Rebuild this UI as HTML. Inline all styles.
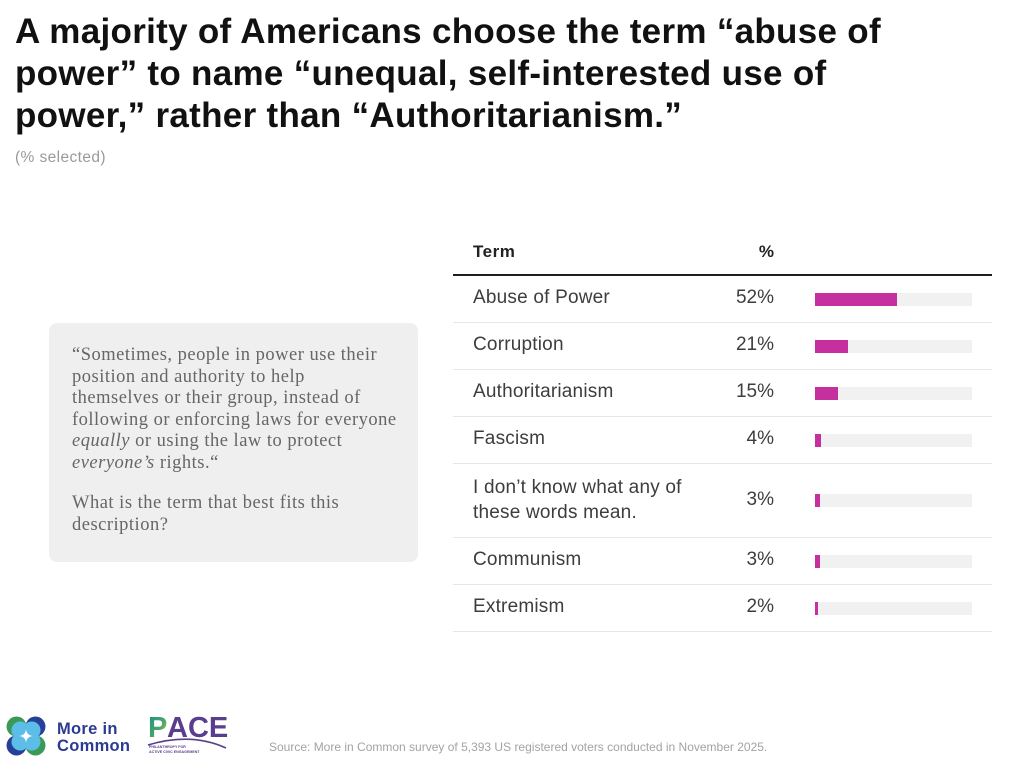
<!DOCTYPE html>
<html>
<head>
<meta charset="utf-8">
<style>
  html,body{margin:0;padding:0;background:#fff;}
  body{width:1024px;height:781px;position:relative;overflow:hidden;font-family:"Liberation Sans",Arial,sans-serif;}
  .abs{position:absolute;white-space:nowrap;}
  .title{left:15px;top:11px;font-size:35px;line-height:42px;font-weight:bold;color:#111;letter-spacing:0.3px;}
  .sub{left:15px;top:149px;font-size:15.5px;line-height:18px;color:#9a9a9a;letter-spacing:0.4px;}
  .box{left:49px;top:323px;width:369px;height:239px;background:#efefef;border-radius:8px;}
  .q{left:72px;font-family:"Liberation Serif","Times New Roman",serif;font-size:18.5px;line-height:21.5px;color:#666;letter-spacing:0.5px;}
  .hdr{font-size:17px;line-height:20px;font-weight:bold;color:#222;letter-spacing:0.5px;}
  .row{font-size:19px;line-height:22px;color:#3d3d3d;letter-spacing:0.2px;}
  .pct{font-size:19px;line-height:22px;color:#3d3d3d;text-align:right;width:80px;left:694px;}
  .sep{left:453px;width:539px;height:1px;background:#e6e6e6;}
  .track{left:815px;width:157px;height:13px;background:#f1f1f1;}
  .fill{left:815px;height:13px;background:#c6309e;}
  .src{left:269px;top:739px;font-size:12px;line-height:16px;color:#a3a3a3;}
</style>
</head>
<body>

<div class="abs title">A majority of Americans choose the term “abuse of<br>power” to name “unequal, self-interested use of<br>power,” rather than “Authoritarianism.”</div>
<div class="abs sub">(% selected)</div>

<!-- Quote box -->
<div class="abs box"></div>
<div class="abs q" style="top:345px;">“Sometimes, people in power use their<br>position and authority to help<br>themselves or their group, instead of<br>following or enforcing laws for everyone<br><i>equally</i> or using the law to protect<br><i>everyone’s</i> rights.“</div>
<div class="abs q" style="top:493px;">What is the term that best fits this<br>description?</div>

<!-- Table header -->
<div class="abs hdr" style="left:473px;top:242px;">Term</div>
<div class="abs hdr" style="left:694px;top:242px;width:80px;text-align:right;letter-spacing:0;">%</div>
<div class="abs" style="left:453px;top:274px;width:539px;height:1.5px;background:#1e1e1e;"></div>

<!-- Row 1 -->
<div class="abs row" style="left:473px;top:287px;">Abuse of Power</div>
<div class="abs pct" style="top:287px;">52%</div>
<div class="abs track" style="top:293px;"></div>
<div class="abs fill" style="top:293px;width:82px;"></div>
<div class="abs sep" style="top:322px;"></div>

<!-- Row 2 -->
<div class="abs row" style="left:473px;top:334px;">Corruption</div>
<div class="abs pct" style="top:334px;">21%</div>
<div class="abs track" style="top:340px;"></div>
<div class="abs fill" style="top:340px;width:33px;"></div>
<div class="abs sep" style="top:369px;"></div>

<!-- Row 3 -->
<div class="abs row" style="left:473px;top:381px;">Authoritarianism</div>
<div class="abs pct" style="top:381px;">15%</div>
<div class="abs track" style="top:387px;"></div>
<div class="abs fill" style="top:387px;width:23px;"></div>
<div class="abs sep" style="top:416px;"></div>

<!-- Row 4 -->
<div class="abs row" style="left:473px;top:428px;">Fascism</div>
<div class="abs pct" style="top:428px;">4%</div>
<div class="abs track" style="top:434px;"></div>
<div class="abs fill" style="top:434px;width:6px;"></div>
<div class="abs sep" style="top:463px;"></div>

<!-- Row 5 (tall) -->
<div class="abs row" style="left:473px;top:475px;line-height:25px;">I don’t know what any of<br>these words mean.</div>
<div class="abs pct" style="top:489px;">3%</div>
<div class="abs track" style="top:494px;"></div>
<div class="abs fill" style="top:494px;width:5px;"></div>
<div class="abs sep" style="top:537px;"></div>

<!-- Row 6 -->
<div class="abs row" style="left:473px;top:549px;">Communism</div>
<div class="abs pct" style="top:549px;">3%</div>
<div class="abs track" style="top:555px;"></div>
<div class="abs fill" style="top:555px;width:5px;"></div>
<div class="abs sep" style="top:584px;"></div>

<!-- Row 7 -->
<div class="abs row" style="left:473px;top:596px;">Extremism</div>
<div class="abs pct" style="top:596px;">2%</div>
<div class="abs track" style="top:602px;"></div>
<div class="abs fill" style="top:602px;width:3px;"></div>
<div class="abs sep" style="top:631px;"></div>

<!-- More in Common logo -->
<svg class="abs" style="left:6px;top:716px;" width="40" height="40" viewBox="0 0 38 38">
  <circle cx="10" cy="10" r="9.5" fill="#3a9a55"/>
  <circle cx="28" cy="10" r="9.5" fill="#283f98"/>
  <circle cx="10" cy="28" r="9.5" fill="#283f98"/>
  <circle cx="28" cy="28" r="9.5" fill="#3a9a55"/>
  <circle cx="13.5" cy="13.5" r="8.3" fill="#5bbde8"/>
  <circle cx="24.5" cy="13.5" r="8.3" fill="#5bbde8"/>
  <circle cx="13.5" cy="24.5" r="8.3" fill="#5bbde8"/>
  <circle cx="24.5" cy="24.5" r="8.3" fill="#5bbde8"/>
  <path d="M19,12.5 Q19.6,18.4 25.5,19 Q19.6,19.6 19,25.5 Q18.4,19.6 12.5,19 Q18.4,18.4 19,12.5 Z" fill="#fff"/>
</svg>
<div class="abs" style="left:57px;top:721px;font-size:16.5px;line-height:16.5px;font-weight:bold;color:#2b3a92;letter-spacing:0.3px;">More in<br>Common</div>

<!-- PACE logo -->
<svg class="abs" style="left:146px;top:712px;" width="86" height="48" viewBox="0 0 86 48">
  <defs>
    <linearGradient id="pg" x1="0" y1="0" x2="1" y2="1">
      <stop offset="0" stop-color="#1c8f86"/>
      <stop offset="0.55" stop-color="#4aa66a"/>
      <stop offset="1" stop-color="#e8c13a"/>
    </linearGradient>
  </defs>
  <text x="2" y="25" font-family="Liberation Sans, Arial, sans-serif" font-weight="bold" font-size="29" fill="url(#pg)">P</text>
  <text x="21" y="25" font-family="Liberation Sans, Arial, sans-serif" font-weight="bold" font-size="29" fill="#5a3e8e">ACE</text>
  <path d="M2,33 Q45,20 80,36" stroke="#5a3e8e" stroke-width="1.6" fill="none"/>
  <text x="3" y="36" font-family="Liberation Sans, Arial, sans-serif" font-weight="bold" font-size="3.6" fill="#5a3e8e">PHILANTHROPY FOR</text>
  <text x="3" y="41" font-family="Liberation Sans, Arial, sans-serif" font-weight="bold" font-size="3.6" fill="#5a3e8e">ACTIVE CIVIC ENGAGEMENT</text>
</svg>

<div class="abs src">Source: More in Common survey of 5,393 US registered voters conducted in November 2025.</div>

</body>
</html>
